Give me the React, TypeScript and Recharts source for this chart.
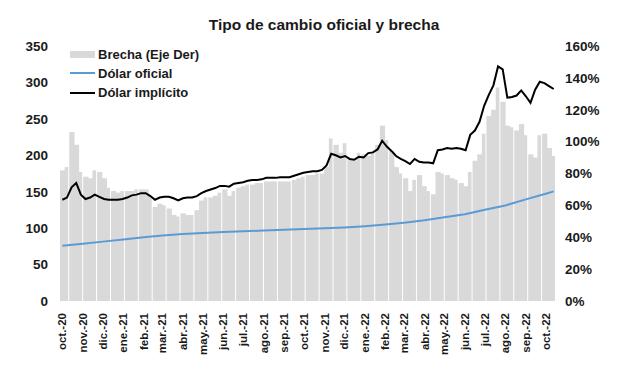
import React from "react"
import {
	Bar,
	ComposedChart,
	Legend,
	Line,
	XAxis,
	YAxis,
} from "recharts"

// Etiquetas de meses (eje X)
const meses = [
	"oct.-20", "nov.-20", "dic.-20", "ene.-21", "feb.-21", "mar.-21", "abr.-21",
	"may.-21", "jun.-21", "jul.-21", "ago.-21", "sep.-21", "oct.-21", "nov.-21",
	"dic.-21", "ene.-22", "feb.-22", "mar.-22", "abr.-22", "may.-22", "jun.-22",
	"jul.-22", "ago.-22", "sep.-22", "oct.-22",
]

// Serie semanal desde el 1/10/2020 (una observación cada 7 días)
const brecha = [
	82, 84, 106, 98, 81, 78, 77, 82, 81, 77, 71, 69, 68, 69, 69, 69, 70, 70, 70, 66,
	59, 61, 60, 58, 54, 53, 55, 54, 54, 57, 63, 65, 65, 66, 68, 70, 66, 69, 71, 72,
	73, 73, 74, 74, 75, 75, 75, 75, 75, 75, 76, 77, 78, 79, 79, 80, 80, 84, 102, 98,
	93, 99, 89, 88, 93, 92, 91, 93, 98, 110, 101, 94, 84, 80, 77, 69, 76, 79, 72, 69,
	67, 81, 80, 79, 77, 76, 74, 72, 81, 88, 92, 105, 116, 120, 134, 125, 110, 109, 107, 111,
	104, 92, 90, 104, 105, 96, 91,
]

const dolarImplicito = [
	139, 142, 156, 162, 146, 140, 142, 146, 143, 140, 139, 139, 139, 140, 142, 145, 146, 148, 148, 144,
	139, 142, 143, 143, 141, 138, 141, 142, 142, 144, 148, 151, 153, 155, 158, 158, 157, 161, 162, 163,
	165, 166, 166, 167, 169, 169, 169, 170, 170, 170, 172, 174, 176, 177, 178, 178, 180, 186, 202, 200,
	197, 199, 195, 194, 198, 197, 203, 204, 208, 220, 212, 206, 199, 195, 192, 188, 195, 191, 190, 190,
	189, 207, 208, 210, 209, 210, 209, 207, 228, 234, 246, 268, 283, 296, 322, 318, 279, 280, 282, 289,
	281, 272, 290, 301, 299, 295, 291,
]

// Dólar oficial: primer día de cada mes + último dato (13/10/2022)
const dolarOficial = [
	76, 78.5, 81.5, 84.5, 87.5, 90, 92, 93.5, 94.7, 95.7, 96.7, 97.7, 98.7, 99.7,
	101, 102.7, 105, 107.5, 110.7, 114.8, 119.2, 125.2, 131.2, 139.5, 147.3, 150.5,
]

const ticksIzq = [0, 50, 100, 150, 200, 250, 300, 350]
const ticksDer = [0, 20, 40, 60, 80, 100, 120, 140, 160]

const DIA = 86400000
const inicio = Date.UTC(2020, 9, 1)
const diasMes = meses.map((_, i) => (Date.UTC(2020, 9 + i, 1) - inicio) / DIA)
const ultimoDia = (brecha.length - 1) * 7

const data = brecha.map((b, i) => ({ dia: i * 7, brecha: b, implicito: dolarImplicito[i] }))
const dataOficial = dolarOficial.map((v, i) => ({
	dia: i < diasMes.length ? diasMes[i] : ultimoDia,
	oficial: v,
}))

const GRIS = "#d9d9d9"
const AZUL = "#5b9bd5"
const TEXTO = "#1a1a1a"

// dominio del eje X en días (medio paso de margen a cada lado para las barras)
const dominioX = [-3.5, ultimoDia + 3.5]
const ANCHO_PLOT = 496
const anchoBarra = (7 * ANCHO_PLOT) / (dominioX[1] - dominioX[0])

const tickStyle = { fill: TEXTO, fontSize: 13.5, fontWeight: 700 }
const ordenLeyenda = ["Brecha (Eje Der)", "Dólar oficial", "Dólar implícito"]

// El eje numérico mezcla fechas semanales y mensuales, así que recharts achica
// las barras: las dibujo con el ancho semanal, centradas en su fecha.
// Cada tercera deja una rayita blanca como en el original.
function BarraBrecha(props: any) {
	const { x, y, width, height, index } = props
	if (!height || height <= 0) return null
	const centro = x + width / 2
	const w = index % 3 === 1 ? anchoBarra - 1 : anchoBarra + 0.6
	return <rect x={centro - anchoBarra / 2} y={y} width={w} height={height} fill={GRIS} />
}

function TickMes(props: any) {
	const { x, y, payload } = props
	const i = diasMes.indexOf(payload.value)
	return (
		<text
			x={x}
			y={y}
			transform={`rotate(-90 ${x} ${y})`}
			textAnchor="end"
			dy="0.35em"
			fill={TEXTO}
			fontSize={11.5}
			fontWeight={700}
		>
			{meses[i]}
		</text>
	)
}

function Leyenda(props: any) {
	const payload = [...(props.payload || [])].sort(
		(a: any, b: any) => ordenLeyenda.indexOf(a.value) - ordenLeyenda.indexOf(b.value)
	)
	return (
		<div style={{ fontSize: 13, fontWeight: 700, color: TEXTO }}>
			{payload.map((p: any) => (
				<div key={p.value} style={{ display: "flex", alignItems: "center", height: 19.2 }}>
					{p.type === "rect" ? (
						<div style={{ width: 25, height: 7, background: GRIS }} />
					) : (
						<div style={{ width: 25, height: 2, background: p.color }} />
					)}
					<span style={{ marginLeft: 3, whiteSpace: "nowrap" }}>{p.value}</span>
				</div>
			))}
		</div>
	)
}

export default function App() {
	return (
		<div
			style={{
				position: "absolute",
				left: 0,
				top: 0,
				width: 617,
				height: 369,
				background: "#fff",
				fontFamily: "'Liberation Sans', Arial, sans-serif",
			}}
		>
			<div
				style={{
					position: "absolute",
					left: 0,
					top: 15.6,
					width: 648,
					textAlign: "center",
					fontSize: 15.5,
					lineHeight: "18px",
					fontWeight: 700,
					color: TEXTO,
				}}
			>
				Tipo de cambio oficial y brecha
			</div>
			<ComposedChart
				width={617}
				height={369}
				data={data}
				barCategoryGap={0}
				margin={{ top: 46, right: 1, left: 0, bottom: 0 }}
			>
				<XAxis
					dataKey="dia"
					type="number"
					domain={dominioX}
					allowDataOverflow
					ticks={diasMes}
					interval={0}
					tick={<TickMes />}
					tickLine={false}
					axisLine={false}
					tickMargin={6}
					height={68}
				/>
				<YAxis
					yAxisId="izq"
					domain={[0, 350]}
					ticks={ticksIzq}
					tick={tickStyle}
					tickLine={false}
					axisLine={false}
					tickMargin={6}
					width={60}
				/>
				<YAxis
					yAxisId="der"
					orientation="right"
					domain={[0, 160]}
					ticks={ticksDer}
					tick={tickStyle}
					tickFormatter={(v) => `${v}%`}
					tickLine={false}
					axisLine={false}
					tickMargin={3}
					width={60}
				/>
				<Legend
					layout="vertical"
					align="center"
					verticalAlign="middle"
					content={<Leyenda />}
					wrapperStyle={{ top: 44.7, left: 70, width: 200, height: 60 }}
				/>
				<Bar
					yAxisId="der"
					dataKey="brecha"
					name="Brecha (Eje Der)"
					fill={GRIS}
					legendType="rect"
					shape={<BarraBrecha />}
					isAnimationActive={false}
				/>
				<Line
					yAxisId="izq"
					data={dataOficial}
					dataKey="oficial"
					name="Dólar oficial"
					stroke={AZUL}
					strokeWidth={2}
					dot={false}
					legendType="line"
					isAnimationActive={false}
				/>
				<Line
					yAxisId="izq"
					dataKey="implicito"
					name="Dólar implícito"
					stroke="#000"
					strokeWidth={2}
					dot={false}
					legendType="line"
					isAnimationActive={false}
				/>
			</ComposedChart>
		</div>
	)
}
